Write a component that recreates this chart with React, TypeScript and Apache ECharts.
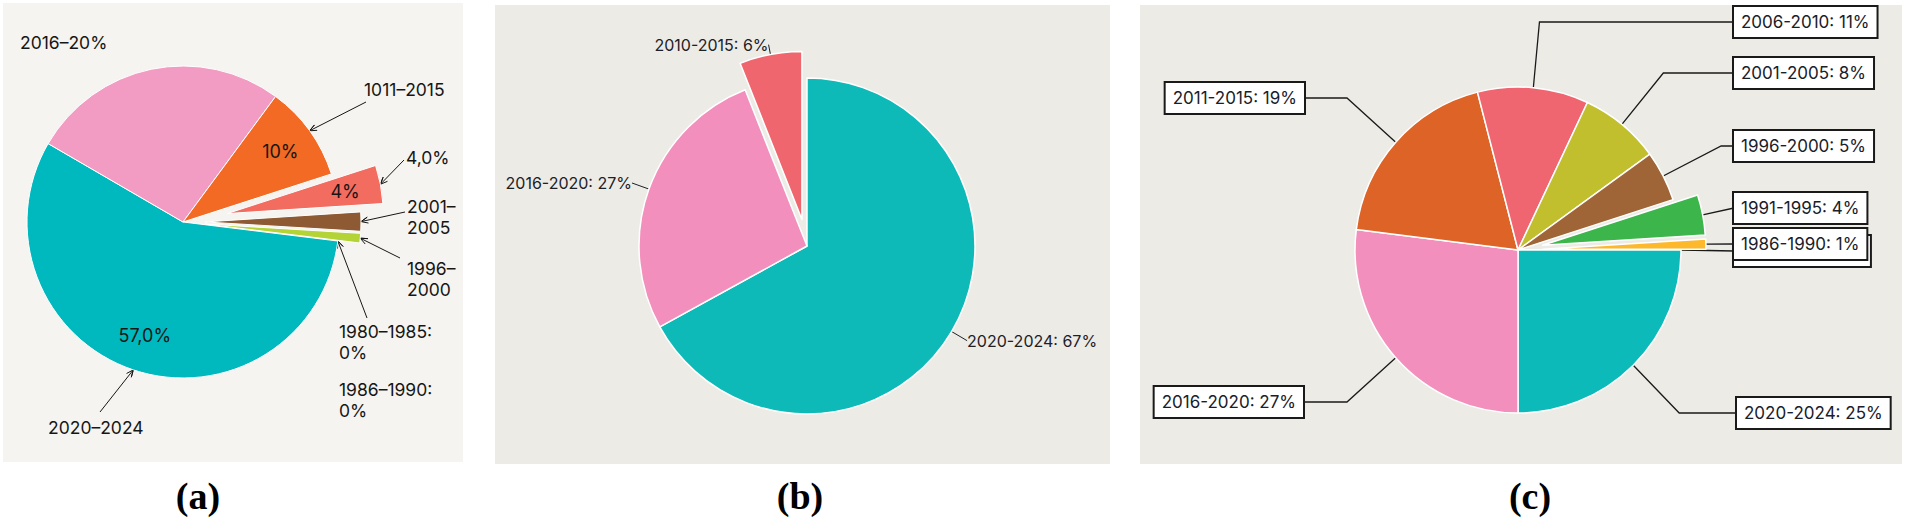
import React, { useEffect, useRef } from "react";
import * as echarts from "echarts";

// ---------- Panel (a) ----------
const aCategories = ["2020–2024", "2016–2020", "2011–2015", "2006–2010", "2001–2005", "1996–2000", "1980–1985", "1986–1990"];
const aValues = [57, 27, 10, 4, 2, 1, 0, 0];
const aColors = ["#00b9bf", "#f39cc3", "#f26a23", "#f26c5f", "#8d5a33", "#b4d336", "#b4d336", "#b4d336"];
const aOuterLabels = ["2020–2024", "2016–20%", "1011–2015", "4,0%", "2001–\n2005", "1996–\n2000", "1980–1985:\n0%", "1986–1990:\n0%"];
const aInnerLabels = ["57,0%", "", "10%", "4%", "", "", "", ""];

// ---------- Panel (b) ----------
const bCategories = ["2020-2024", "2016-2020", "2010-2015"];
const bValues = [67, 27, 6];
const bColors = ["#0dbab8", "#f28fbc", "#f0666f"];

// ---------- Panel (c) ----------
const cCategories = ["1980-1985", "2020-2024", "2016-2020", "2011-2015", "2006-2010", "2001-2005", "1996-2000", "1991-1995", "1986-1990"];
const cValues = [0, 25, 27, 19, 11, 8, 5, 4, 1];
const cColors = ["#fdb92b", "#0cbab9", "#f28fbc", "#dd6426", "#f06670", "#c1bf2e", "#a06536", "#3cb54a", "#fdb92b"];

const panelTitles = ["(a)", "(b)", "(c)"];

// ---------- layout (positions only) ----------
const A_CENTER = [183, 222];
const A_R = 156;
const A_START = -7;
const A_EXPLODE: Record<number, number> = { 3: 45, 4: 22, 5: 22 };
const aLabelPos = [[48, 427], [20, 42], [364, 89], [406, 157], [407, 217], [407, 279], [339, 342], [339, 400]];
const aLineEnd: (number[] | null)[] = [[100, 412], null, [366, 102], [404, 160], [405, 212], [400, 258], [367, 318], null];

const B_CENTER = [807, 246];
const B_R = 168;
const B_START = 90;
const B_EXPLODE: Record<number, number> = { 2: 27 };

const C_CENTER = [1518, 250];
const C_R = 163;
const C_START = 0;
const C_EXPLODE: Record<number, number> = { 7: 25, 8: 25 };
// x, y, align, bent line?
const cLabelPos: [number, number, string, boolean][] = [
  [1734, 251, "left", false],
  [1737, 413, "left", true],
  [1303, 402, "right", true],
  [1304, 98, "right", true],
  [1734, 22, "left", true],
  [1734, 73, "left", true],
  [1734, 146, "left", true],
  [1734, 208, "left", false],
  [1734, 244, "left", false],
];

const FONT = "Inter, 'Noto Sans', sans-serif";
const TRANSPARENT = { color: "rgba(0,0,0,0)", borderWidth: 0 };

function shiftedCenter(base: number[], values: number[], i: number, startAngle: number, offset: number) {
  const total = values.reduce((s, v) => s + v, 0);
  let acc = 0;
  for (let k = 0; k < i; k++) acc += values[k];
  const a0 = (-startAngle * Math.PI) / 180 + (acc / total) * 2 * Math.PI;
  const mid = a0 + (values[i] / total) * Math.PI;
  return [base[0] + Math.cos(mid) * offset, base[1] + Math.sin(mid) * offset];
}

// polyline from the slice point to the label, with an open arrow head at the slice point
function arrowPoints(tip: number[], end: number[]) {
  const dx = end[0] - tip[0];
  const dy = end[1] - tip[1];
  const len = Math.hypot(dx, dy) || 1;
  const ux = dx / len;
  const uy = dy / len;
  const L = 7;
  const W = 3;
  const w1 = [tip[0] + ux * L - uy * W, tip[1] + uy * L + ux * W];
  const w2 = [tip[0] + ux * L + uy * W, tip[1] + uy * L - ux * W];
  return [w1, tip, w2, tip, end];
}

const aLayout = (p: any) => {
  const i = p.dataIndex;
  const pos = aLabelPos[i];
  const res: any = { x: pos[0], y: pos[1], align: "left", verticalAlign: "middle" };
  const end = aLineEnd[i];
  if (end && p.labelLinePoints) res.labelLinePoints = arrowPoints(p.labelLinePoints[0], end);
  return res;
};

const cLayout = (p: any) => {
  const i = p.dataIndex;
  const pos = cLabelPos[i];
  const res: any = { x: pos[0], y: pos[1], align: pos[2], verticalAlign: "middle" };
  const pts = p.labelLinePoints;
  if (pts) {
    res.labelLinePoints = pos[3]
      ? [pts[0], [pts[1][0], pos[1]], [pos[0], pos[1]]]
      : [pts[0], [pos[0], pos[1]]];
  }
  return res;
};

const aLabelBase = { color: "#161616", fontFamily: FONT, fontSize: 17.5, lineHeight: 21 };
const aLineStyle = { color: "#161616", width: 1 };

const pieBase = {
  type: "pie",
  clockwise: true,
  avoidLabelOverlap: false,
  silent: true,
  emphasis: { disabled: true },
};

function buildOption(): any {
  const series: any[] = [];

  // ----- Panel (a): main slices and their outside labels
  const aMainLabelled = [0, 1, 2, 6, 7];
  series.push({
    ...pieBase,
    center: A_CENTER,
    radius: A_R,
    startAngle: A_START,
    label: { show: true, position: "outside", formatter: (p: any) => aOuterLabels[p.dataIndex], ...aLabelBase },
    labelLine: { show: true, length: 10, length2: 0, lineStyle: aLineStyle },
    labelLayout: aLayout,
    itemStyle: { borderColor: "#ffffff", borderWidth: 1 },
    data: aValues.map((v, i) => {
      const visible = A_EXPLODE[i] === undefined && v > 0;
      const lab = aMainLabelled.includes(i);
      return {
        name: aCategories[i],
        value: v,
        itemStyle: visible ? { color: aColors[i] } : TRANSPARENT,
        label: { show: lab },
        labelLine: { show: lab && aLineEnd[i] !== null },
      };
    }),
  });
  // inside labels for main slices
  series.push({
    ...pieBase,
    center: A_CENTER,
    radius: [A_R / 2, A_R],
    startAngle: A_START,
    label: { show: true, position: "inside", formatter: (p: any) => aInnerLabels[p.dataIndex], ...aLabelBase, fontSize: 18 },
    labelLine: { show: false },
    itemStyle: TRANSPARENT,
    data: aValues.map((v, i) => ({
      name: aCategories[i],
      value: v,
      label: { show: aInnerLabels[i] !== "" && A_EXPLODE[i] === undefined },
    })),
  });
  // exploded slices of (a)
  Object.keys(A_EXPLODE).forEach((key) => {
    const e = Number(key);
    const center = shiftedCenter(A_CENTER, aValues, e, A_START, A_EXPLODE[e]);
    series.push({
      ...pieBase,
      center,
      radius: A_R,
      startAngle: A_START,
      label: { show: true, position: "outside", formatter: (p: any) => aOuterLabels[p.dataIndex], ...aLabelBase },
      labelLine: { show: true, length: 10, length2: 0, lineStyle: aLineStyle },
      labelLayout: aLayout,
      itemStyle: { borderColor: "#ffffff", borderWidth: 1 },
      data: aValues.map((v, i) => ({
        name: aCategories[i],
        value: v,
        itemStyle: i === e ? { color: aColors[i] } : TRANSPARENT,
        label: { show: i === e },
        labelLine: { show: i === e },
      })),
    });
    if (aInnerLabels[e] !== "") {
      series.push({
        ...pieBase,
        center,
        radius: [A_R / 2, A_R],
        startAngle: A_START,
        label: { show: true, position: "inside", formatter: (p: any) => aInnerLabels[p.dataIndex], ...aLabelBase, fontSize: 18 },
        labelLine: { show: false },
        itemStyle: TRANSPARENT,
        data: aValues.map((v, i) => ({ name: aCategories[i], value: v, label: { show: i === e } })),
      });
    }
  });

  // ----- Panel (b)
  const bLabel = {
    show: true,
    position: "outside",
    formatter: "{b}: {c}%",
    color: "#1c2126",
    fontFamily: FONT,
    fontSize: 16,
    distanceToLabelLine: 0,
  };
  const bLine = { show: true, length: 18, length2: 0, lineStyle: { color: "#1c2126", width: 1 } };
  series.push({
    ...pieBase,
    center: B_CENTER,
    radius: B_R,
    startAngle: B_START,
    label: bLabel,
    labelLine: bLine,
    itemStyle: { borderColor: "#ffffff", borderWidth: 1.5 },
    data: bValues.map((v, i) => {
      const main = B_EXPLODE[i] === undefined;
      return {
        name: bCategories[i],
        value: v,
        itemStyle: main ? { color: bColors[i] } : TRANSPARENT,
        label: { show: main },
        labelLine: { show: main },
      };
    }),
  });
  Object.keys(B_EXPLODE).forEach((key) => {
    const e = Number(key);
    series.push({
      ...pieBase,
      center: shiftedCenter(B_CENTER, bValues, e, B_START, B_EXPLODE[e]),
      radius: B_R,
      startAngle: B_START,
      label: bLabel,
      labelLine: { ...bLine, length: 10 },
      itemStyle: { borderColor: "#ffffff", borderWidth: 1.5 },
      data: bValues.map((v, i) => ({
        name: bCategories[i],
        value: v,
        itemStyle: i === e ? { color: bColors[i] } : TRANSPARENT,
        label: { show: i === e },
        labelLine: { show: i === e },
      })),
    });
  });

  // ----- Panel (c)
  const cLabel = {
    show: true,
    position: "outside",
    formatter: "{b}: {c}%",
    color: "#18202a",
    fontFamily: FONT,
    fontSize: 17,
    lineHeight: 18,
    backgroundColor: "#ffffff",
    borderColor: "#1a1a1a",
    borderWidth: 2,
    padding: [6, 7],
  };
  const cLine = { show: true, length: 65, length2: 43, lineStyle: { color: "#1a1a1a", width: 1.3 } };
  series.push({
    ...pieBase,
    center: C_CENTER,
    radius: C_R,
    startAngle: C_START,
    label: cLabel,
    labelLine: cLine,
    labelLayout: cLayout,
    itemStyle: { borderColor: "#ffffff", borderWidth: 1.5 },
    data: cValues.map((v, i) => {
      const main = C_EXPLODE[i] === undefined;
      return {
        name: cCategories[i],
        value: v,
        itemStyle: main ? { color: cColors[i] } : TRANSPARENT,
        label: { show: main },
        labelLine: { show: main },
      };
    }),
  });
  Object.keys(C_EXPLODE).forEach((key) => {
    const e = Number(key);
    series.push({
      ...pieBase,
      center: shiftedCenter(C_CENTER, cValues, e, C_START, C_EXPLODE[e]),
      radius: C_R,
      startAngle: C_START,
      label: cLabel,
      labelLine: cLine,
      labelLayout: cLayout,
      itemStyle: { borderColor: "#ffffff", borderWidth: 1.5 },
      data: cValues.map((v, i) => ({
        name: cCategories[i],
        value: v,
        itemStyle: i === e ? { color: cColors[i] } : TRANSPARENT,
        label: { show: i === e },
        labelLine: { show: i === e },
      })),
    });
  });

  const titleX = [198, 800, 1530];

  return {
    animation: false,
    backgroundColor: "#ffffff",
    graphic: [
      { type: "rect", z: -10, silent: true, shape: { x: 3, y: 3, width: 460, height: 459 }, style: { fill: "#f5f4f0" } },
      { type: "rect", z: -10, silent: true, shape: { x: 495, y: 5, width: 615, height: 459 }, style: { fill: "#ecebe6" } },
      { type: "rect", z: -10, silent: true, shape: { x: 1140, y: 5, width: 762, height: 459 }, style: { fill: "#ecebe6" } },
      ...panelTitles.map((t, i) => ({
        type: "text",
        x: titleX[i],
        y: 496,
        style: {
          text: t,
          font: "bold 38px 'Liberation Serif', 'Times New Roman', serif",
          fill: "#000000",
          align: "center",
          verticalAlign: "middle",
          textAlign: "center",
          textVerticalAlign: "middle",
        },
      })),
    ],
    series,
  };
}

export default function App() {
  const ref = useRef<HTMLDivElement>(null);
  useEffect(() => {
    document.body.style.margin = "0";
    if (!ref.current) return;
    const chart = echarts.init(ref.current, undefined, { renderer: "svg" });
    chart.setOption(buildOption());
    return () => chart.dispose();
  }, []);
  return <div ref={ref} style={{ width: 1905, height: 520 }} />;
}
